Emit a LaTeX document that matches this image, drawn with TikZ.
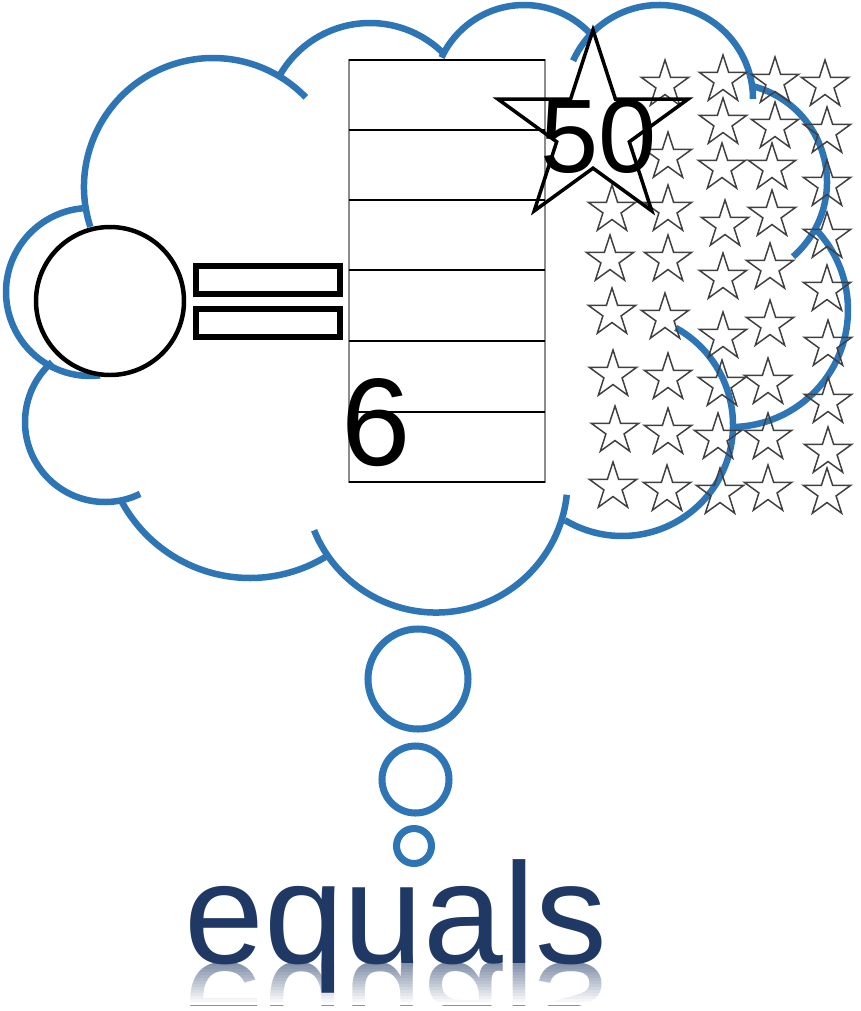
\documentclass[tikz,border=0pt]{standalone}
\usepackage{fontspec}
\setmainfont{Liberation Sans}
\usepackage{graphicx}
\usetikzlibrary{shapes.geometric}

\definecolor{cloudblue}{HTML}{2E75B6}
\definecolor{wordblue}{HTML}{1F3864}

\tikzset{cloud/.style = {draw=cloudblue, line width=3.7pt},
         bubble/.style = {draw=cloudblue, line width=4pt}}
\tikzset{tinystar/.style = {star, star points=5, star point ratio=2.618,
                            draw=black!75, line width=0.85pt, inner sep=0pt,
                            minimum size=1cm},
         bigstar/.style = {star, star points=5, star point ratio=2.618,
                           draw=black, line width=2pt, inner sep=0pt,
                           minimum size=4cm},
         digits/.style = {inner sep=0pt, anchor=base west},
         word/.style = {inner sep=0pt, anchor=base west, text=wordblue,
                        font=\fontsize{81.6}{82}\selectfont}}

% one bump of the cloud: centre x, centre y (downwards), radius, from, to
\newcommand{\cloudarc}[5]{\draw[cloud] (#1,-#2) ++(#4:#3) arc[start angle=#4, end angle=#5, radius=#3];}

\begin{document}
\begin{tikzpicture}[x=0.02cm, y=0.02cm]
  \useasboundingbox (0,0) rectangle (861,-1011);

  % cloud outline
  \cloudarc{213}{187}{129}{198}{44}
  \cloudarc{370}{127}{104}{151}{44}
  \cloudarc{524}{96}{91}{155}{44}
  \cloudarc{659}{99}{94}{156}{0}
  \cloudarc{728}{182}{99}{75}{-49}
  \cloudarc{731}{310}{117}{44}{-89}
  \cloudarc{622}{425}{111}{61}{-121}
  \cloudarc{436}{481}{131.5}{202}{354}
  \cloudarc{250}{432}{146}{208}{301}
  \cloudarc{105}{422}{80}{131.5}{296}
  \cloudarc{90}{292}{84}{95}{277}

  % thought bubbles
  \draw[bubble] (418,-679) circle[radius=50];
  \draw[bubble] (415.5,-779.5) circle[radius=33.5];
  \draw[bubble] (414,-846) circle[radius=17.5];

  % circle and equal sign
  \draw[line width=2.55pt] (110,-301) circle[radius=74];
  \draw[line width=3.1pt] (196,-266) rectangle (340,-294);
  \draw[line width=3.1pt] (196,-309) rectangle (340,-337);

  % the table
  \draw[black!45, line width=0.6pt] (349,-60) rectangle (545,-482);
  \foreach \y in {60,130,200,270,341,412,482}
    \draw[line width=1.1pt] (349,-\y) -- (545,-\y);
  \node[digits, font=\fontsize{70.9}{71}\selectfont] (six) at (341,-465) {6};

  % stars
  \foreach \x/\y [count=\n] in {612/210, 610/260, 612/313, 613/375, 615/431, 613/487,
      665/85, 668/157, 668/210, 668/260, 665/318, 668/378, 668/433, 667/490,
      723/80, 723/123, 722/168, 725/225, 723/278, 723/337, 722/385, 718/438, 720/493,
      775/82, 775/127, 772/168, 772/215, 770/268, 770/325, 768/383, 768/438, 768/490,
      825/85, 827/132, 827/185, 827/237, 827/290, 828/345, 828/402, 828/452, 827/493}
    \node[tinystar] (s\n) at (\x,-\y) {};
  \node[bigstar] (big) at (593,-130) {};
  \node[digits, font=\fontsize{59.5}{60}\selectfont] (fifty) at (540.5,-172) {50};

  % word with its reflection
  \begin{scope}
    \clip (150,-963) rectangle (650,-1005);
    \node[word, opacity=0.55] (mirror) at (184,-963) {\scalebox{1}[-1]{equals}};
  \end{scope}
  \foreach \i [evaluate=\i as \op using \i/13] in {0,...,13}
    \fill[white, opacity=\op] (150,{-963-3*\i}) rectangle (650,{-966-3*\i});
  \node[word] (equals) at (184,-963) {equals};
\end{tikzpicture}
\end{document}
